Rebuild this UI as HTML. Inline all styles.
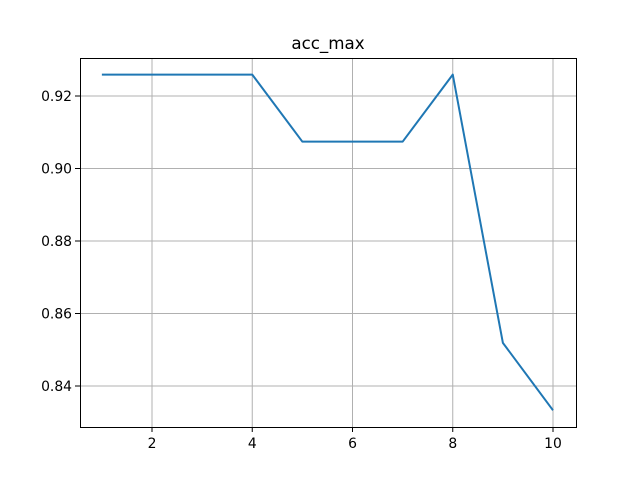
<!DOCTYPE html>
<html><head><meta charset="utf-8"><style>
body{margin:0;background:#fff;}
svg{display:block;font-family:"DejaVu Sans","Liberation Sans",sans-serif;}
</style></head><body>
<svg id="chart" width="640" height="480" xmlns="http://www.w3.org/2000/svg">
<rect x="0" y="0" width="640" height="480" fill="#fff"/>
<text x="328" y="49" font-size="16.7" text-anchor="middle" fill="#000">acc_max</text>
<g id="grid"></g>
<g id="ticks"></g>
<polyline id="line" fill="none" stroke="#1f77b4" stroke-width="2" stroke-linejoin="round"/>
<rect x="80.5" y="58.5" width="496" height="369" fill="none" stroke="#000" stroke-width="1"/>
</svg>
<script>
const xValues=[1,2,3,4,5,6,7,8,9,10];
const accValues=[0.9259,0.9259,0.9259,0.9259,0.9074,0.9074,0.9074,0.9259,0.8519,0.8333];
const xTicks=[2,4,6,8,10];
const yTicks=[0.84,0.86,0.88,0.90,0.92];
const yTickLabels=["0.84","0.86","0.88","0.90","0.92"];
function sx(v){return 152+(v-2)*(553-152)/8;}
function sy(v){return 386-(v-0.84)*(290/0.08);}
const NS="http://www.w3.org/2000/svg";
const grid=document.getElementById('grid'),ticks=document.getElementById('ticks');
function mk(tag,attrs,parent){const e=document.createElementNS(NS,tag);for(const k in attrs)e.setAttribute(k,attrs[k]);parent.appendChild(e);return e;}
xTicks.forEach(t=>{const x=sx(t);
 const g=mk('line',{x1:x,x2:x,y1:58,y2:427,stroke:'#b0b0b0','stroke-width':1},grid);
 
 
 const tk=mk('line',{x1:x,x2:x,y1:427,y2:432,stroke:'#000','stroke-width':1},ticks);
 
 
 const tx=mk('text',{x:x,y:448,'font-size':13.9,'text-anchor':'middle',fill:'#000'},ticks);
 tx.textContent=String(t);
 
 
});
yTicks.forEach((t,i)=>{const y=sy(t);
 const g=mk('line',{x1:80,x2:576,y1:y,y2:y,stroke:'#b0b0b0','stroke-width':1},grid);
 
 
 const tk=mk('line',{x1:75,x2:80,y1:y,y2:y,stroke:'#000','stroke-width':1},ticks);
 
 
 const tx=mk('text',{x:72,y:y+5,'font-size':13.9,'text-anchor':'end',fill:'#000'},ticks);
 tx.textContent=yTickLabels[i];
 
 
});
document.getElementById('line').setAttribute('points',xValues.map((x,i)=>sx(x)+','+sy(accValues[i])).join(' '));
</script>
</body></html>
